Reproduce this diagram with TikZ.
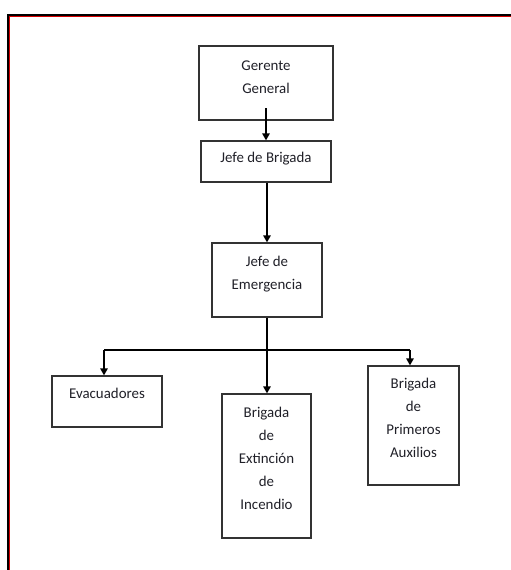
\documentclass[tikz,border=0pt]{standalone}
\usepackage{fontspec}
\setmainfont{Carlito}
\usetikzlibrary{arrows.meta}
\definecolor{txt}{HTML}{202028}
\definecolor{frm}{HTML}{333333}
\newcommand\boxtext[4]{\parbox[c][#2pt][t]{#1pt}{\centering\fontsize{14.9}{23}\selectfont\color{txt}\rule{0pt}{#3pt}#4}}
\tikzset{
  orgbox/.style={draw=frm, line width=1.3pt, inner sep=0pt, fill=white},
  link/.style={draw=black, line width=1.4pt},
  arr/.style={link, -{Triangle[length=7pt,width=7.5pt]}}
}
\begin{document}
\begin{tikzpicture}[x=1pt,y=-1pt]
\useasboundingbox (0,0) rectangle (511,570);
\fill[white] (0,0) rectangle (511,570);
% frame
\draw[black, line width=2.2pt] (8,570) -- (8,15) -- (511,15);
\draw[red!85!black, line width=1pt] (9.9,570) -- (9.9,16.9) -- (511,16.9);
% nodes
\node[orgbox] (gg)  at (266,83)    {\boxtext{134}{74}{24}{Gerente\\General}};
\node[orgbox] (jb)  at (266,161.5) {\boxtext{130}{41}{21}{Jefe de Brigada}};
\node[orgbox] (je)  at (267,280)   {\boxtext{110}{74}{23}{Jefe de\\Emergencia}};
\node[orgbox] (ev)  at (107,401.5) {\boxtext{110}{51}{22}{Evacuadores}};
\node[orgbox] (bei) at (266.5,466) {\boxtext{89}{144}{23}{Brigada\\de\\Extinción\\de\\Incendio}};
\node[orgbox] (bpa) at (413.5,425.5) {\boxtext{91}{119}{22}{Brigada\\de\\Primeros\\Auxilios}};
% connectors
\coordinate (s1) at (266,108);
\coordinate (hl) at (104,350);
\coordinate (hr) at (410,350);
\draw[arr] (s1) -- (s1 |- jb.north);
\draw[arr] (jb.south -| je.north) -- (je.north);
\draw[arr] (je.south) -- (je.south |- bei.north);
\draw[link] (hl) -- (hr);
\draw[arr] (hl) -- (hl |- ev.north);
\draw[arr] (hr) -- (hr |- bpa.north);
\end{tikzpicture}
\end{document}
